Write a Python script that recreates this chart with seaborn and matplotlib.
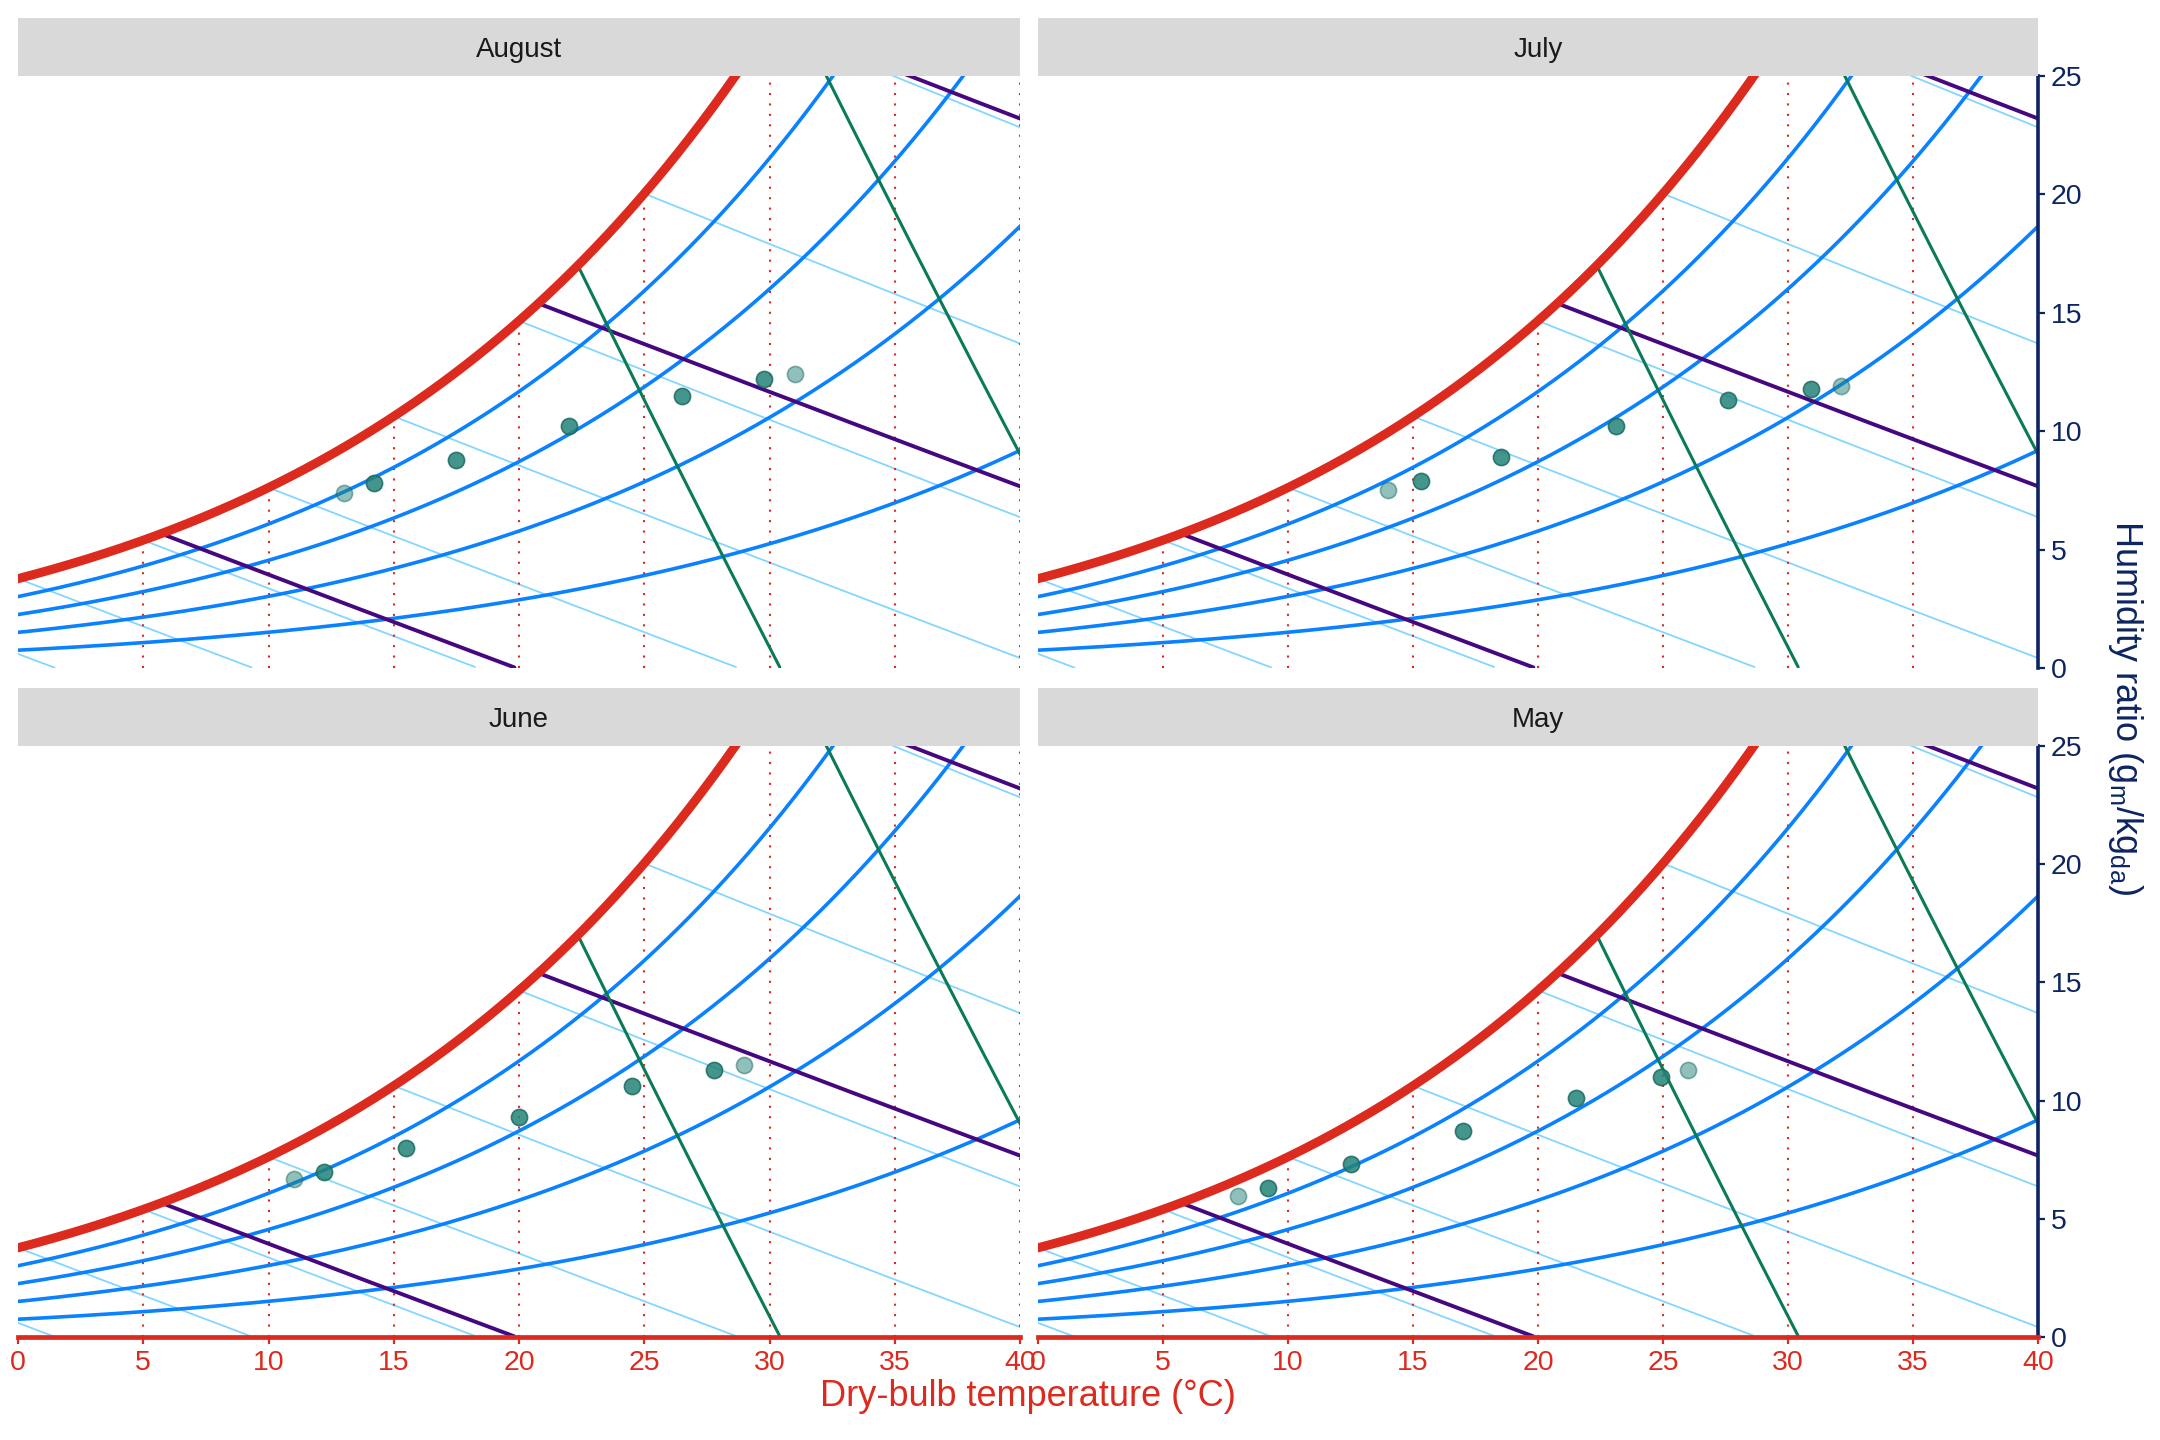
import matplotlib
matplotlib.use("Agg")
import matplotlib.pyplot as plt
from matplotlib.patches import Rectangle
import numpy as np
import pandas as pd
import seaborn as sns

# monthly points: dry-bulb temperature (°C) and humidity ratio (g/kg)
months = ["August", "July", "June", "May"]
aug_temp = [13.0, 14.2, 17.5, 22.0, 26.5, 29.8, 31.0]
aug_hum = [7.4, 7.8, 8.8, 10.2, 11.5, 12.2, 12.4]
jul_temp = [14.0, 15.3, 18.5, 23.1, 27.6, 30.9, 32.1]
jul_hum = [7.5, 7.9, 8.9, 10.2, 11.3, 11.8, 11.9]
jun_temp = [11.0, 12.2, 15.5, 20.0, 24.5, 27.8, 29.0]
jun_hum = [6.7, 7.0, 8.0, 9.3, 10.6, 11.3, 11.5]
may_temp = [8.0, 9.2, 12.5, 17.0, 21.5, 24.9, 26.0]
may_hum = [5.95, 6.3, 7.3, 8.7, 10.1, 11.0, 11.3]
is_extreme = [True, False, False, False, False, False, True]

# psychrometric grid levels
rh_levels = [0.8, 0.6, 0.4, 0.2]
wetbulb_levels = [-5, 0, 5, 10, 15, 20, 25, 30]
enthalpy_levels = [20, 60, 100]
volume_levels = [0.86, 0.90]
drybulb_levels = [5, 10, 15, 20, 25, 30, 35, 40]
x_ticks = [0, 5, 10, 15, 20, 25, 30, 35, 40]
y_ticks = [0, 5, 10, 15, 20, 25]

P = 101.325
RED = "#dc2a1e"
BLUE = "#0a82ff"
LIGHT = "#84d6ff"
PURPLE = "#46087f"
GREEN = "#0a7a57"
NAVY = "#0c2461"
TEAL = "#238378"

frames = []
for m, t, w in zip(months, [aug_temp, jul_temp, jun_temp, may_temp],
                   [aug_hum, jul_hum, jun_hum, may_hum]):
    frames.append(pd.DataFrame({"month": m, "temp": t, "hum": w, "extreme": is_extreme}))
df = pd.concat(frames, ignore_index=True)


def pws(t):
    return 0.61094 * np.exp(17.625 * t / (t + 243.04))


def w_sat(t, phi=1.0):
    pv = phi * pws(t)
    return 622 * pv / (P - pv)


def draw_month(data, **kws):
    ax = plt.gca()
    t = np.linspace(-6, 41, 600)
    ws = w_sat(t)

    for twb in wetbulb_levels:
        tt = np.linspace(twb, 41, 300)
        wwb = w_sat(twb) / 1000
        w = ((2501 - 2.326 * twb) * wwb - 1.006 * (tt - twb)) / (2501 + 1.86 * tt - 4.186 * twb) * 1000
        m = w >= 0
        ax.plot(tt[m], w[m], color=LIGHT, lw=1.3, zorder=1)

    for tdb in drybulb_levels:
        ax.plot([tdb, tdb], [0, min(w_sat(tdb), 25)], color=RED, lw=1.5,
                ls=(0, (1, 4)), zorder=1.5)

    for phi in rh_levels:
        ax.plot(t, w_sat(t, phi), color=BLUE, lw=2.6, zorder=2)

    for h in enthalpy_levels:
        w = (h - 1.006 * t) / (2501 + 1.86 * t) * 1000
        m = (w >= 0) & (w <= ws)
        ax.plot(t[m], w[m], color=PURPLE, lw=2.8, zorder=2.5)

    for v in volume_levels:
        w = (v * P / (0.287042 * (t + 273.15)) - 1) / 1.607858 * 1000
        m = (w >= 0) & (w <= ws)
        ax.plot(t[m], w[m], color=GREEN, lw=2.2, zorder=2.5)

    ax.plot(t, ws, color=RED, lw=6.5, zorder=3, solid_capstyle="butt")

    sns.scatterplot(data=data[~data["extreme"]], x="temp", y="hum", ax=ax, color=TEAL,
                    s=135, alpha=0.85, edgecolor="#1b6a60", linewidth=1.2, zorder=5)
    sns.scatterplot(data=data[data["extreme"]], x="temp", y="hum", ax=ax, color=TEAL,
                    s=135, alpha=0.5, edgecolor="#1b6a60", linewidth=1.2, zorder=5)


sns.set_theme(style="white")
plt.rcParams["font.family"] = ["Liberation Sans", "DejaVu Sans"]

g = sns.FacetGrid(df, col="month", col_wrap=2, col_order=months, sharex=False, sharey=False)
g.map_dataframe(draw_month)

fig = g.figure
fig.set_size_inches(21.6, 14.4)
W, H = 2160, 1440
cols = [(18, 1020), (1038, 2038)]
rows = [(76, 668), (746, 1337)]
strip_h = 58

for i, ax in enumerate(g.axes.flat):
    r, c = divmod(i, 2)
    x0, x1 = cols[c]
    y0, y1 = rows[r]
    ax.set_position([x0 / W, 1 - y1 / H, (x1 - x0) / W, (y1 - y0) / H])
    ax.set_xlim(0, 40)
    ax.set_ylim(0, 25)
    ax.set_title("")
    ax.set_xlabel("")
    ax.set_ylabel("")
    for s in ax.spines.values():
        s.set_visible(False)
    ax.set_xticks(x_ticks)
    ax.set_yticks(y_ticks)
    if r == 1:
        ax.spines["bottom"].set_visible(True)
        ax.spines["bottom"].set_color(RED)
        ax.spines["bottom"].set_linewidth(3.4)
        ax.spines["bottom"].set_zorder(6)
        ax.tick_params(axis="x", bottom=True, labelbottom=True, colors=RED, labelcolor=RED,
                       length=5, width=1.6, labelsize=20.5, pad=4, direction="out")
    else:
        ax.tick_params(axis="x", bottom=False, labelbottom=False)
    if c == 1:
        ax.spines["right"].set_visible(True)
        ax.spines["right"].set_color(NAVY)
        ax.spines["right"].set_linewidth(2.6)
        ax.yaxis.tick_right()
        ax.tick_params(axis="y", right=True, labelright=True, left=False, labelleft=False,
                       colors=NAVY, labelcolor=NAVY, length=5, width=1.6, labelsize=20.5,
                       pad=4, direction="out")
    else:
        ax.tick_params(axis="y", left=False, labelleft=False, right=False, labelright=False)

    fig.add_artist(Rectangle((x0 / W, 1 - y0 / H), (x1 - x0) / W, strip_h / H,
                             transform=fig.transFigure, facecolor="#d9d9d9", edgecolor="none"))
    fig.text((x0 + x1) / 2 / W, 1 - (y0 - strip_h / 2) / H, months[i], ha="center",
             va="center_baseline", fontsize=20, color="#1a1a1a")

fig.text(1028 / W, 1 - 1397 / H, "Dry-bulb temperature (°C)", ha="center", va="center",
         fontsize=26, color=RED)
fig.text(2125 / W, 1 - 707 / H, r"Humidity ratio (g$_\mathregular{m}$/kg$_\mathregular{da}$)",
         ha="center", va="center", rotation=270, fontsize=26, color=NAVY)

fig.savefig("out.png", dpi=100)
